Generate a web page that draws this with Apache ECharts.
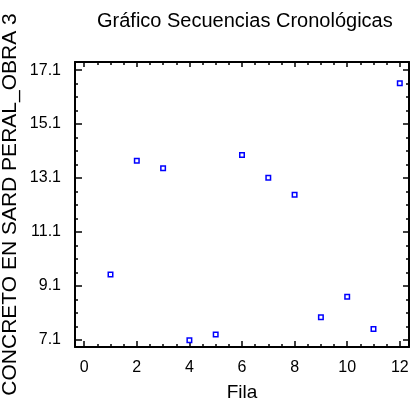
<!DOCTYPE html>
<html>
<head>
<meta charset="utf-8">
<script src="https://cdn.jsdelivr.net/npm/echarts@6/dist/echarts.min.js"></script>
<style>html,body{margin:0;padding:0;background:#fff;}#c{width:414px;height:406px;}</style>
</head>
<body>
<div id="c"></div>
<script>
var titleText = 'Gráfico Secuencias Cronológicas';
var xName = 'Fila';
var yName = 'CONCRETO EN SARD PERAL_OBRA 3';
var rows = [1, 2, 3, 4, 5, 6, 7, 8, 9, 10, 11, 12];
var values = [9.53, 13.74, 13.46, 7.09, 7.30, 13.95, 13.11, 12.48, 7.94, 8.70, 7.51, 16.61];
var xMajor = [0, 2, 4, 6, 8, 10, 12];
var xMinor = [0, 0.5, 1, 1.5, 2, 2.5, 3, 3.5, 4, 4.5, 5, 5.5, 6, 6.5, 7, 7.5, 8, 8.5, 9, 9.5, 10, 10.5, 11, 11.5, 12];
var yMajor = [7.1, 9.1, 11.1, 13.1, 15.1, 17.1];
var yMinor = [7.1, 7.6, 8.1, 8.6, 9.1, 9.6, 10.1, 10.6, 11.1, 11.6, 12.1, 12.6, 13.1, 13.6, 14.1, 14.6, 15.1, 15.6, 16.1, 16.6, 17.1];

var FONT = 'Liberation Sans, Arial, sans-serif';
var xMin = -0.35, xMax = 12.35, yMin = 6.84, yMax = 17.4;

function xAx(pos, ticks, len, showLine, showLabel) {
  return {
    type: 'value', position: pos, min: xMin, max: xMax,
    axisLine: { show: showLine, onZero: false, lineStyle: { color: '#000', width: 2 } },
    axisTick: { show: true, inside: true, length: len, customValues: ticks, lineStyle: { color: '#000', width: 1.5 } },
    axisLabel: { show: showLabel, customValues: xMajor, color: '#000', fontSize: 16, fontFamily: FONT, margin: 13 },
    splitLine: { show: false }
  };
}
function yAx(pos, ticks, len, showLine, showLabel) {
  return {
    type: 'value', position: pos, min: yMin, max: yMax,
    axisLine: { show: showLine, onZero: false, lineStyle: { color: '#000', width: 2 } },
    axisTick: { show: true, inside: true, length: len, customValues: ticks, lineStyle: { color: '#000', width: 1.5 } },
    axisLabel: { show: showLabel, customValues: yMajor, color: '#000', fontSize: 16, fontFamily: FONT, margin: 14,
      formatter: function (v) { return Number(v).toFixed(1); } },
    splitLine: { show: false }
  };
}

var xs = [
  xAx('bottom', xMajor, 6, true, true),
  xAx('bottom', xMinor, 3, false, false),
  xAx('top', xMajor, 5, true, false),
  xAx('top', xMinor, 3, false, false)
];
xs[0].name = xName;
xs[0].nameLocation = 'middle';
xs[0].nameGap = 36;
xs[0].nameMoveOverlap = false;
xs[0].nameTextStyle = { color: '#000', fontSize: 19, fontFamily: FONT };

var ys = [
  yAx('left', yMajor, 7, true, true),
  yAx('left', yMinor, 3, false, false),
  yAx('right', yMajor, 6, true, false),
  yAx('right', yMinor, 3, false, false)
];
ys[0].name = yName;
ys[0].nameLocation = 'middle';
ys[0].nameGap = 54;
ys[0].nameMoveOverlap = false;
ys[0].nameTextStyle = { color: '#000', fontSize: 21, fontFamily: FONT };

var chart = echarts.init(document.getElementById('c'), null, { renderer: 'canvas' });
chart.setOption({
  animation: false,
  backgroundColor: '#fff',
  title: {
    text: titleText, left: 97, top: 11, padding: 0,
    textStyle: { color: '#000', fontSize: 20, fontWeight: 'normal', fontFamily: FONT }
  },
  grid: { left: 75, right: 5, top: 62, bottom: 59, containLabel: false, outerBoundsMode: 'none' },
  xAxis: xs,
  yAxis: ys,
  series: [{
    type: 'scatter',
    xAxisIndex: 0, yAxisIndex: 0,
    data: rows.map(function (r, i) { return [r, values[i]]; }),
    symbol: 'rect', symbolSize: 4.5,
    itemStyle: { color: '#fff', borderColor: '#0000ff', borderWidth: 1.5, opacity: 1 }
  }]
});
</script>
</body>
</html>
